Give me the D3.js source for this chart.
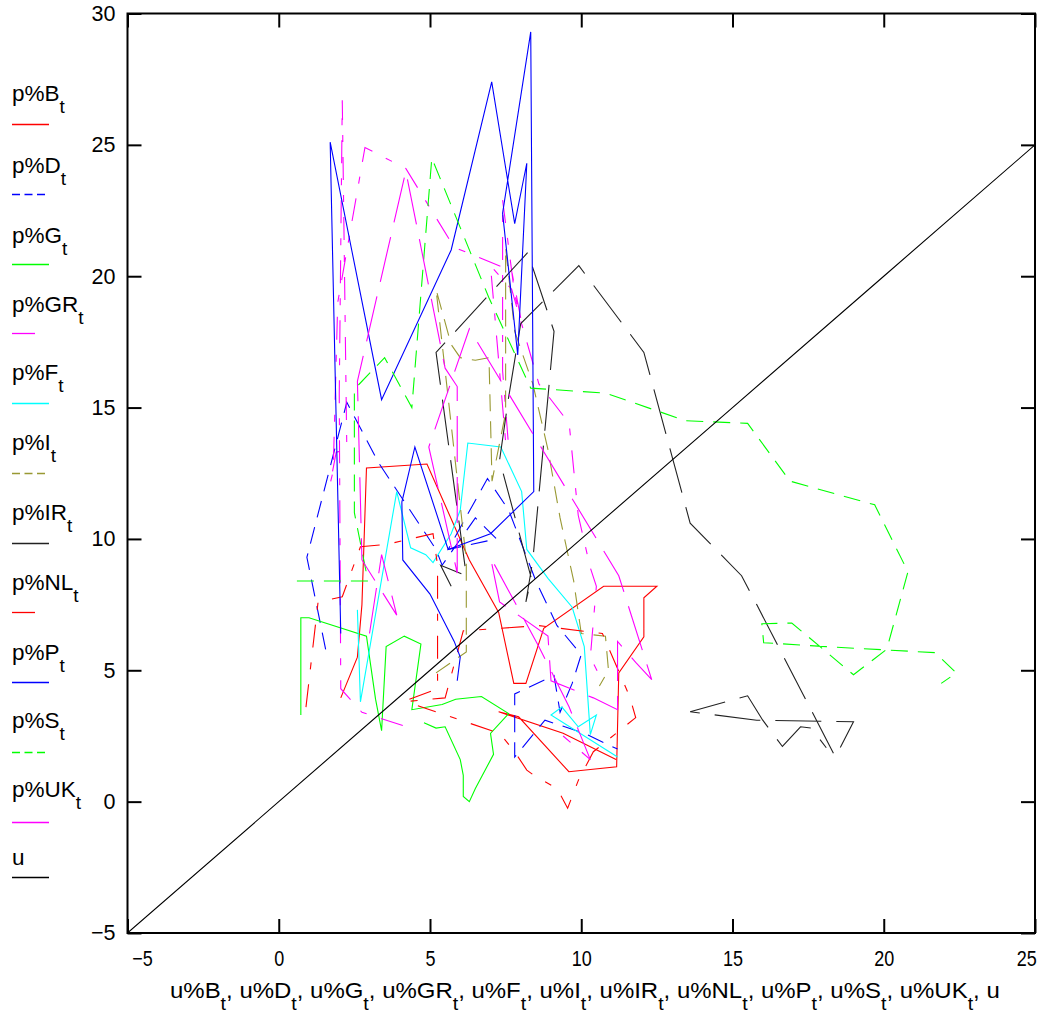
<!DOCTYPE html>
<html><head><meta charset="utf-8">
<script src="https://cdn.jsdelivr.net/npm/d3@7/dist/d3.min.js"></script>
<style>body{margin:0;background:#fff}svg{display:block;font-family:"Liberation Sans",Arial,Helvetica,sans-serif}</style>
</head><body>
<svg id="chart" width="1048" height="1019"></svg>
<script>
// ---------- data: [unemployment u, inflation p] per country ----------
const seriesKeys = ["B","D","G","GR","F","I","IR","NL","P","S","UK","u"];
const xTickValues = [-5,0,5,10,15,20,25];
const yTickValues = [-5,0,5,10,15,20,25,30];

const dataB = [[2.05,3.95],[2.6,5.5],[2.75,7.5],[2.9,12.7],[4.9,12.85],[6.3,9.2],[7.27,7.2],[7.77,4.5],[8.17,4.5],[8.76,6.6],[10.74,8.2],[12.5,8.2],[12.07,7.76],[12.07,6.27],[11.24,4.9],[11.17,1.33],[9.59,1.14],[7.93,3.23],[7.27,3.42],[9.4,2.6],[11.15,1.6]];
const dataD = [[1.55,5.8],[0.93,9.3],[2.25,15.2],[3.3,12.9],[5.2,9.6],[5.4,9.0],[6.5,10.8],[7.2,10.0],[5.6,9.6],[6.9,12.3],[7.6,11.1],[8.5,8.4],[9.2,6.7],[10.0,5.6],[9.7,4.5],[9.3,3.4],[9.1,4.8],[7.8,4.1],[7.8,1.7],[8.8,3.1],[10.1,2.6],[11.2,2.0]];
const dataG = [[0.73,3.3],[0.73,7.0],[1.0,7.0],[2.9,6.3],[3.2,3.9],[3.4,2.7],[3.55,5.9],[4.15,6.3],[4.7,6.0],[4.4,3.5],[5.4,3.7],[5.85,3.9],[6.7,4.0],[7.6,3.35],[7.0,2.6],[7.1,1.8],[6.5,0.5],[6.3,0.0],[6.1,0.2],[6.1,1.0],[6.0,1.6],[5.5,2.85],[5.2,2.8],[4.8,3.0]];
const dataGR = [[4.1,2.9],[2.75,3.4],[2.05,4.3],[2.0,15.5],[2.1,26.7],[2.25,13.4],[1.9,13.3],[1.7,12.1],[1.8,12.6],[1.95,19.0],[2.85,24.9],[4.2,24.1],[5.8,21.1],[7.7,20.2],[8.0,18.4],[7.8,19.3],[7.4,22.9],[7.4,16.4],[7.6,13.5],[7.5,13.7],[7.0,20.4],[7.7,19.5],[8.6,15.9],[9.6,14.4],[9.9,10.9],[10.3,8.9],[10.5,8.2],[10.3,5.5],[10.6,4.8]];
const dataF = [[2.6,7.3],[2.7,3.8],[3.9,11.8],[4.36,9.66],[4.86,9.4],[5.1,9.1],[5.7,10.2],[6.0,11.1],[6.25,13.65],[7.34,13.5],[8.03,11.8],[8.2,9.6],[8.9,8.5],[9.7,7.4],[10.1,5.9],[10.3,2.55],[10.5,3.3],[9.9,2.85],[9.36,3.6],[9.0,3.3],[11.2,1.7]];
const dataI = [[5.2,4.9],[6.2,5.7],[6.2,9.2],[5.2,19.5],[5.7,17.4],[6.0,16.9],[6.5,16.8],[6.95,16.9],[7.05,12.2],[7.5,14.8],[7.5,21.1],[7.8,17.9],[8.4,15.9],[8.9,13.4],[9.3,10.8],[9.75,8.4],[10.0,6.4],[10.8,6.3],[10.9,5.0],[10.6,4.4]];
const dataIR = [[5.7,8.2],[5.35,9.0],[6.2,8.6],[5.2,17.1],[8.23,20.9],[9.1,17.9],[8.4,9.2],[8.17,7.6],[8.35,8.5],[7.3,13.0],[7.6,15.4],[8.0,18.2],[9.92,20.4],[12.07,17.1],[13.6,10.6],[15.3,8.6],[15.8,7.5],[18.4,1.7],[19.0,3.04],[15.8,3.1],[13.6,3.42],[15.5,4.03],[16.0,3.1],[16.65,2.1],[17.25,2.85],[17.6,2.8],[18.1,2.05]];
const dataNL = [[0.9,3.6],[1.1,5.6],[1.3,7.6],[2.1,7.8],[2.7,9.7],[3.6,9.8],[5.1,10.2],[5.25,9.0],[5.25,4.3],[4.1,3.8],[5.5,3.95],[6.1,6.5],[8.6,6.7],[10.7,6.4],[11.6,4.0],[11.8,3.2],[10.4,1.9],[9.9,0.8],[9.55,-0.25],[9.2,0.5],[8.5,0.95],[8.2,1.2],[7.8,1.9],[7.3,2.6],[4.6,3.65]];
const dataP = [[2.05,6.4],[1.7,25.1],[3.4,15.3],[5.7,21.0],[7.04,27.4],[7.8,22.0],[8.2,24.3],[7.9,17.0],[7.4,22.4],[8.33,29.3],[8.43,11.8],[7.0,10.2],[5.6,9.6],[4.5,13.5],[4.07,11.4],[4.1,9.2],[5.0,7.9],[5.8,6.1],[6.0,5.5],[5.9,4.6]];
const dataS = [[0.6,8.4],[2.95,8.4],[2.5,11.0],[2.5,15.7],[3.5,16.9],[4.4,15.0],[5.06,24.5],[6.94,19.2],[8.33,15.74],[10.8,15.55],[13.45,14.5],[15.5,14.4],[16.9,12.2],[19.7,11.3],[20.8,8.75],[20.1,5.8],[19.0,4.83],[16.96,6.8],[15.97,6.77],[16.03,6.05],[18.1,5.9],[21.7,5.67],[22.4,4.9],[21.9,4.5]];
const dataUK = [[3.0,6.4],[3.4,9.4],[3.9,7.1],[2.75,9.2],[2.6,16.0],[4.2,24.0],[5.5,16.5],[5.9,15.8],[5.9,8.7],[4.96,13.5],[6.3,18.0],[11.24,8.6],[12.33,4.64],[11.8,5.3],[11.2,6.1],[11.2,3.5],[10.4,3.95],[9.0,4.6],[8.9,6.3],[7.3,7.6],[7.0,9.3],[8.6,5.9],[9.6,3.6],[10.3,1.6],[9.4,2.5]];
const uValues = [-5,0,5,10,15,20,25];
const dataU = uValues.map(v => [v, v]);

const seriesData = {B:dataB,D:dataD,G:dataG,GR:dataGR,F:dataF,I:dataI,IR:dataIR,NL:dataNL,P:dataP,S:dataS,UK:dataUK,u:dataU};

// ---------- styles ----------
const colors = {B:"#ff0000",D:"#0000ff",G:"#00ff00",GR:"#ff00ff",F:"#00ffff",I:"#999933",IR:"#222222",NL:"#ff0000",P:"#0000ff",S:"#00ff00",UK:"#ff00ff",u:"#000000"};
const dashes = {B:null,D:"17,10",G:null,GR:"23,15,7,15",F:null,I:"17,10",IR:"46,15",NL:"23,15,7,15",P:null,S:"17,10",UK:"46,15",u:null};
const legendDash = {D:"8,4.5",I:"8,4.5",S:"8,4.5"};
const legendLen = {GR:23,NL:23};

const svg = d3.select("#chart");
const L = 127.5, R = 1035, T = 13.5, Bm = 933;
const x = d3.scaleLinear().domain([-5,25]).range([L,R]);
const y = d3.scaleLinear().domain([-5,30]).range([Bm,T]);

svg.append("rect").attr("width",1048).attr("height",1019).attr("fill","#fff");
svg.append("defs").append("clipPath").attr("id","clip")
  .append("rect").attr("x",L).attr("y",T).attr("width",R-L).attr("height",Bm-T);

const plot = svg.append("g").attr("clip-path","url(#clip)");
const line = d3.line().x(d=>x(d[0])).y(d=>y(d[1]));
seriesKeys.forEach(k=>{
  plot.append("path").datum(seriesData[k]).attr("d",line)
    .attr("fill","none").attr("stroke",colors[k]).attr("stroke-width",1.1)
    .attr("stroke-linejoin","miter")
    .attr("stroke-dasharray",dashes[k]);
});

// ---------- axes ----------
const fmt = d3.format("");
const axB = svg.append("g").attr("transform",`translate(0,${Bm})`)
  .call(d3.axisBottom(x).tickValues(xTickValues).tickSizeInner(-14).tickSizeOuter(0).tickPadding(17).tickFormat(fmt));
const axL = svg.append("g").attr("transform",`translate(${L},0)`)
  .call(d3.axisLeft(y).tickValues(yTickValues).tickSizeInner(-14).tickSizeOuter(0).tickPadding(12).tickFormat(fmt));
const axT = svg.append("g").attr("transform",`translate(0,${T})`)
  .call(d3.axisTop(x).tickValues(xTickValues).tickSizeInner(-14).tickSizeOuter(0).tickFormat(""));
const axR = svg.append("g").attr("transform",`translate(${R},0)`)
  .call(d3.axisRight(y).tickValues(yTickValues).tickSizeInner(-14).tickSizeOuter(0).tickFormat(""));
[axB,axL,axT,axR].forEach(a=>{
  a.select(".domain").remove();
  a.selectAll(".tick line").attr("stroke","#000").attr("stroke-width",2);
  a.selectAll("text").attr("fill","#000").attr("font-family","Liberation Sans, Arial, sans-serif");
});
axL.selectAll("text").attr("font-size",21.5);
axB.selectAll("text").attr("font-size",22.5).attr("transform","scale(0.8,1)");
axB.selectAll(".tick").filter(d=>d===-5).select("text").attr("x",18);
axB.selectAll(".tick").filter(d=>d===25).select("text").attr("x",-11);

svg.append("rect").attr("x",L).attr("y",T).attr("width",R-L).attr("height",Bm-T)
  .attr("fill","none").attr("stroke","#000").attr("stroke-width",2);

// ---------- legend ----------
const legBase = [101,173,243,312,380,450,520,590,660,728,797,865];
const legLineY = [124,194,264,333,403,473,543,612,682,752,822,877];
const leg = svg.append("g").attr("font-size",22.5).attr("fill","#000");
seriesKeys.forEach((k,i)=>{
  const t = leg.append("text").attr("x",12).attr("y",legBase[i]);
  if(k==="u"){ t.text("u"); }
  else {
    t.append("tspan").text("p%"+k);
    t.append("tspan").attr("dy",12).attr("font-size",19).text("t");
  }
  leg.append("line").attr("x1",12).attr("x2",12+(legendLen[k]||37))
    .attr("y1",legLineY[i]+0.5).attr("y2",legLineY[i]+0.5)
    .attr("stroke",colors[k]).attr("stroke-width",1.3)
    .attr("stroke-dasharray",legendDash[k]||null);
});

// ---------- x axis title ----------
const xtG = svg.append("g");
const xt = xtG.append("text").attr("x",0).attr("y",0).attr("font-size",22).attr("fill","#000");
seriesKeys.forEach((k,i)=>{
  if(k==="u"){ xt.append("tspan").text("u"); return; }
  xt.append("tspan").text("u%"+k);
  xt.append("tspan").attr("dy",12).attr("font-size",18).text("t");
  xt.append("tspan").attr("dy",-12).text(", ");
});
const bw = xt.node().getComputedTextLength();
const sx = 830 / bw;
xtG.attr("transform",`translate(170,998) scale(${sx},1)`);
</script>
</body></html>
